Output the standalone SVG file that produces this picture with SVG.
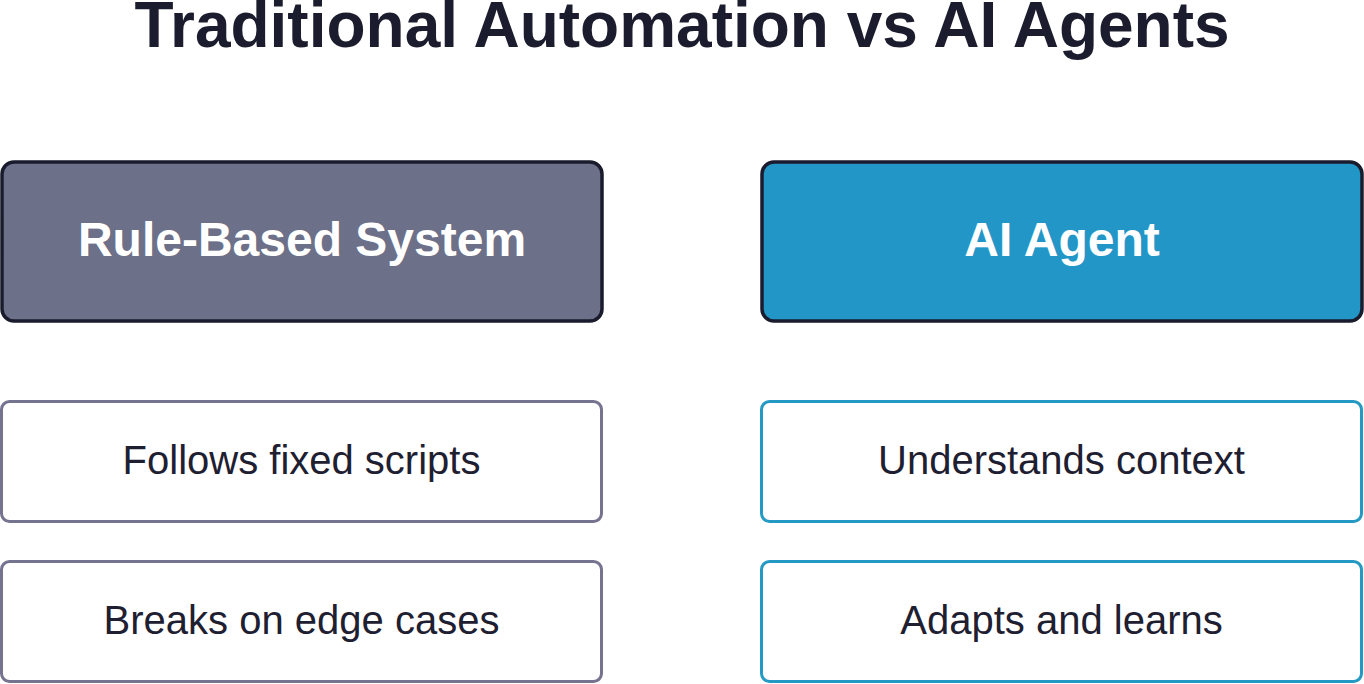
<svg xmlns="http://www.w3.org/2000/svg" width="1364" height="684" viewBox="0 0 1364 684">
  <style>
    .title { font-family: "Liberation Sans", Arial, sans-serif; font-weight: bold; font-size: 64px; fill: #1b1c2d; }
    .head { stroke: #1a1b2c; stroke-width: 3.5; }
    .headtxt { font-family: "Liberation Sans", Arial, sans-serif; font-weight: bold; font-size: 48px; fill: #ffffff; }
    .item { fill: #ffffff; stroke-width: 3; }
    .itemtxt { font-family: "Liberation Sans", Arial, sans-serif; font-size: 40px; fill: #1e2031; }
  </style>
  <rect width="1364" height="684" fill="#ffffff"/>
  <text class="title" x="682" y="47" text-anchor="middle">Traditional Automation vs AI Agents</text>
  <g id="connectors"></g>
  <g id="rule-based">
    <rect class="head" x="2" y="162" width="600" height="159" rx="12" fill="#6c7089"/>
    <text class="headtxt" x="302" y="256" text-anchor="middle">Rule-Based System</text>
  </g>
  <g id="ai-agent">
    <rect class="head" x="762" y="162" width="600" height="159" rx="12" fill="#2396c8"/>
    <text class="headtxt" x="1062" y="256" text-anchor="middle">AI Agent</text>
  </g>
  <g id="fixed-scripts">
    <rect class="item" x="1.5" y="401.5" width="600" height="120" rx="8" stroke="#767391"/>
    <text class="itemtxt" x="301.5" y="474" text-anchor="middle">Follows fixed scripts</text>
  </g>
  <g id="edge-cases">
    <rect class="item" x="1.5" y="561.5" width="600" height="120" rx="8" stroke="#767391"/>
    <text class="itemtxt" x="301.5" y="634" text-anchor="middle">Breaks on edge cases</text>
  </g>
  <g id="context">
    <rect class="item" x="761.5" y="401.5" width="600" height="120" rx="8" stroke="#2399c4"/>
    <text class="itemtxt" x="1061.5" y="474" text-anchor="middle">Understands context</text>
  </g>
  <g id="adapts">
    <rect class="item" x="761.5" y="561.5" width="600" height="120" rx="8" stroke="#2399c4"/>
    <text class="itemtxt" x="1061.5" y="634" text-anchor="middle">Adapts and learns</text>
  </g>
</svg>
